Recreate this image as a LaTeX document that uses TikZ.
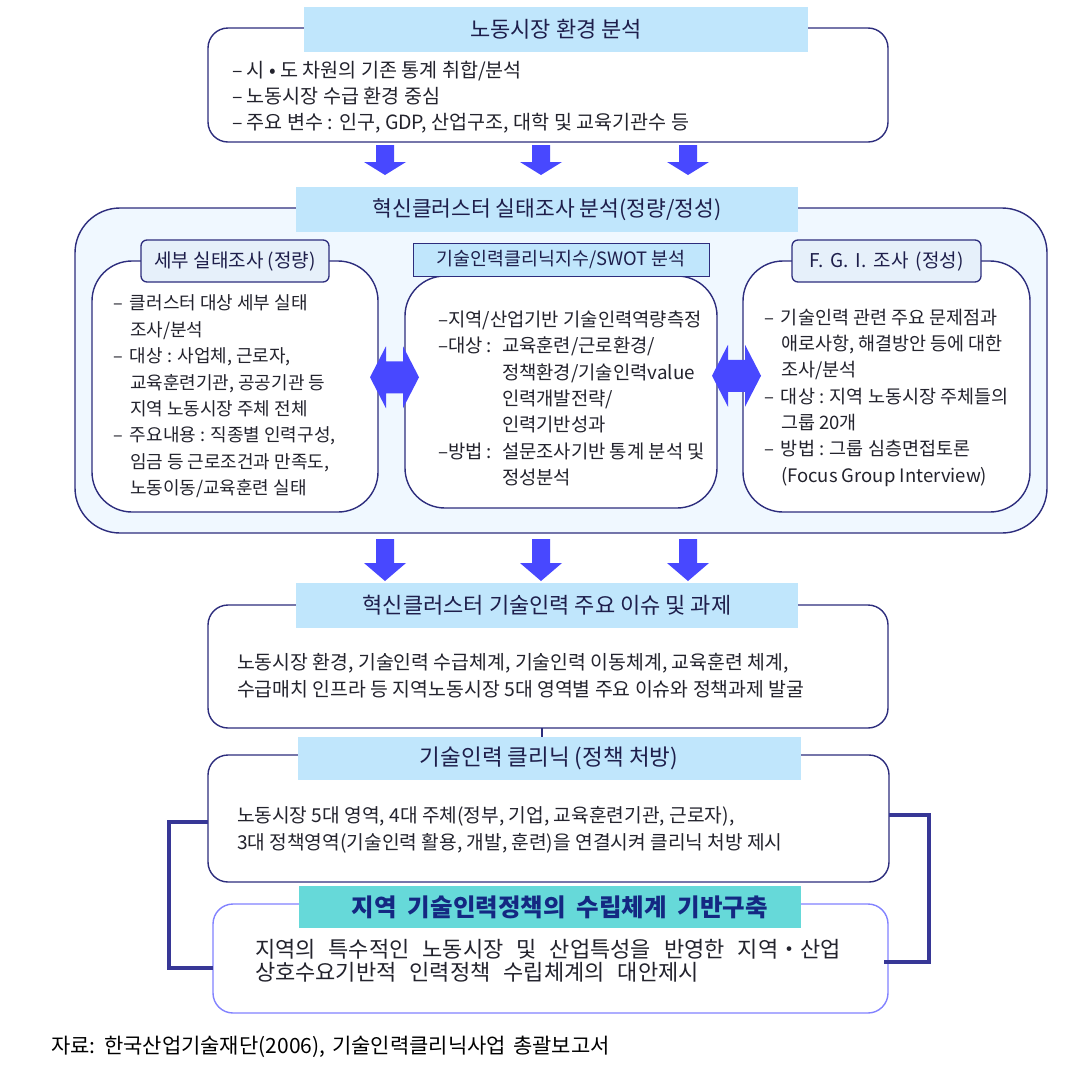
\documentclass[tikz,border=0pt]{standalone}
\usepackage{fontspec}
\setmainfont{Noto Sans CJK KR}
\usetikzlibrary{calc}
\definecolor{bandc}{RGB}{192,230,252}
\definecolor{navy}{RGB}{45,45,125}
\definecolor{palec}{RGB}{240,248,255}
\definecolor{tabc}{RGB}{230,240,250}
\definecolor{arrc}{RGB}{72,72,255}
\definecolor{brkc}{RGB}{55,55,150}
\definecolor{lbc}{RGB}{130,130,255}
\definecolor{tealc}{RGB}{102,217,217}
\definecolor{ttlc}{RGB}{30,30,75}
\definecolor{boldc}{RGB}{20,40,130}
\definecolor{txtc}{RGB}{35,35,45}
\newcommand\fs[2]{\fontsize{#1}{#2}\selectfont}
\newcommand\dsh{\makebox[17pt][l]{–}}
\newcommand\ind{\hspace*{17pt}}
\newcommand\mk[1]{\makebox[64pt][l]{#1}}
\newcommand\mind{\hspace*{64pt}}
\newcommand\wsp[1]{\spaceskip=#1\relax}
\begin{document}
\begin{tikzpicture}[x=1pt,y=-1pt,
  every node/.style={inner sep=0pt,outer sep=0pt},
  box/.style={draw=navy,line width=1.4pt,rounded corners=20pt,fill=white},
  outerbox/.style={draw=navy,line width=1.4pt,rounded corners=45pt,fill=palec},
  innerbox/.style={draw=navy,line width=1.4pt,rounded corners=40pt,fill=white},
  tabbox/.style={draw=navy,line width=1.3pt,rounded corners=6pt,fill=tabc,text=ttlc,font=\fs{19}{22}},
  sqtab/.style={draw=navy,line width=1pt,fill=bandc,text=ttlc,font=\fs{18.4}{22}},
  band/.style={fill=bandc,text=ttlc,font=\fs{22}{26}},
  body/.style={align=left,anchor=north west,text=txtc,font=\fs{18}{26.3}},
  bracket/.style={draw=brkc,line width=4.5pt,line join=miter},
  pics/downarr/.style 2 args={code={
    \fill[arrc] (-9,0) -- (9,0) -- (9,#1) -- (21,#1) -- (0,#2) -- (-21,#1) -- (-9,#1) -- cycle;}},
  pics/lrarr/.style={code={
    \fill[arrc] (-24.5,0) -- (-8.5,-31) -- (-8.5,-16) -- (8.5,-16) -- (8.5,-31) -- (24.5,0)
      -- (8.5,31) -- (8.5,16) -- (-8.5,16) -- (-8.5,31) -- cycle;}}
]
\useasboundingbox (0,0) rectangle (1091,1082);
\fill[white] (0,0) rectangle (1091,1082);

% ---- box 1
\node[box,minimum width=680pt,minimum height=114pt] (b1) at (548,85) {};
\node[band,minimum width=504pt,minimum height=45pt] (t1) at (556,29.5) {노동시장 환경 분석};
\node[body,font=\fs{19.6}{26}] (x1) at (232,61) {– 시 • 도 차원의 기존 통계 취합/분석\\– 노동시장 수급 환경 중심\\– 주요 변수 : 인구, GDP, 산업구조, 대학 및 교육기관수 등};

% arrows row 1
\pic at (385,145) {downarr={17}{30}};
\pic at (541,145) {downarr={17}{30}};
\pic at (688,145) {downarr={17}{30}};

% ---- box 2 (outer)
\node[outerbox,minimum width=972pt,minimum height=325pt] (b2) at (561,370.5) {};
\node[band,font=\fs{21.5}{26},minimum width=502pt,minimum height=45pt] (t2) at (547,209.5) {혁신클러스터 실태조사 분석(정량/정성)};

\node[innerbox,minimum width=286pt,minimum height=251pt] (lb) at (235,386.5) {};
\node[tabbox,minimum width=188pt,minimum height=42pt] (lt) at (235,261) {세부 실태조사 (정량)};
\node[body,font=\fs{18}{26.4}] (lx) at (113,295) {\dsh 클러스터 대상 세부 실태\\\ind 조사/분석\\\dsh 대상 : 사업체, 근로자,\\\ind 교육훈련기관, 공공기관 등\\\ind 지역 노동시장 주체 전체\\\dsh 주요내용 : 직종별 인력구성,\\\ind 임금 등 근로조건과 만족도,\\\ind 노동이동/교육훈련 실태};

\node[innerbox,minimum width=312pt,minimum height=232pt] (mb) at (561,392) {};
\node[sqtab,minimum width=296pt,minimum height=33pt] (mt) at (561,259.5) {기술인력클리닉지수/SWOT 분석};
\node[body,font=\fs{18.8}{26.3}] (mx) at (438,311) {–지역/산업기반 기술인력역량측정\\\mk{–대상 :}교육훈련/근로환경/\\\mind 정책환경/기술인력value\\\mind 인력개발전략/\\\mind 인력기반성과\\\mk{–방법 :}설문조사기반 통계 분석 및\\\mind 정성분석};

\node[innerbox,minimum width=287pt,minimum height=251pt] (rb) at (886.5,386.5) {};
\node[tabbox,minimum width=189pt,minimum height=42pt] (rt) at (886.5,261) {\wsp{7pt}F. G. I. 조사 (정성)};
\node[body,font=\fs{18.5}{26.3}] (rx) at (764,309) {\dsh 기술인력 관련 주요 문제점과\\\ind 애로사항, 해결방안 등에 대한\\\ind 조사/분석\\\dsh 대상 : 지역 노동시장 주체들의\\\ind 그룹 20개\\\dsh 방법 : 그룹 심층면접토론\\\ind (Focus Group Interview)};

\pic at ($(lb.east)!0.5!(mb.west)+(3,-12)$) {lrarr};
\pic at ($(mb.east)!0.5!(rb.west)+(6.5,-13.5)$) {lrarr};

% arrows row 2
\pic at (385,539) {downarr={24}{42}};
\pic at (541,539) {downarr={24}{42}};
\pic at (688,539) {downarr={24}{42}};

% ---- box 3
\node[box,minimum width=680pt,minimum height=123pt] (b3) at (548,666.5) {};
\node[band,minimum width=502pt,minimum height=45pt] (t3) at (547,605.5) {혁신클러스터 기술인력 주요 이슈 및 과제};
\node[body,font=\fs{19.4}{27}] (x3) at (237,653) {노동시장 환경, 기술인력 수급체계, 기술인력 이동체계, 교육훈련 체계,\\수급매치 인프라 등 지역노동시장 5대 영역별 주요 이슈와 정책과제 발굴};

% ---- box 4
\node[box,minimum width=681pt,minimum height=127pt] (b4) at (548.5,818.5) {};
\node[band,font=\fs{22.5}{26},minimum width=503pt,minimum height=43pt] (t4) at (549,758.5) {기술인력 클리닉 (정책 처방)};
\node[body,font=\fs{19.2}{27}] (x4) at (237,806) {노동시장 5대 영역, 4대 주체(정부, 기업, 교육훈련기관, 근로자),\\3대 정책영역(기술인력 활용, 개발, 훈련)을 연결시켜 클리닉 처방 제시};
\draw[navy,line width=1.2pt] (b3.south -| 542,0) -- (t4.north -| 542,0);

% ---- box 5
\node[box,draw=lbc,minimum width=675pt,minimum height=109pt] (b5) at (550.5,958.5) {};
\node[fill=tealc,minimum width=502pt,minimum height=42pt] (t5) at (550,907) {};
\node[text=boldc,font=\fs{24.5}{28}\bfseries] (t5x) at (560,907) {\wsp{11pt}지역 기술인력정책의 수립체계 기반구축};
\node[body,font=\fs{22}{23}] (x5) at (255,939) {\wsp{13pt}지역의 특수적인 노동시장 및 산업특성을 반영한 지역・산업\\\wsp{13pt}상호수요기반적 인력정책 수립체계의 대안제시};

% brackets
\draw[bracket] (b4.west |- 0,822) -| (169,968) -- (b5.west |- 0,968);
\draw[bracket] (b4.east |- 0,815) -| (929,962) -- (884,962);

% footnote
\node[anchor=west,text=black,font=\fs{21}{24}] (src) at (51,1047) {\wsp{7pt}자료: 한국산업기술재단(2006), 기술인력클리닉사업 총괄보고서};
\end{tikzpicture}
\end{document}
